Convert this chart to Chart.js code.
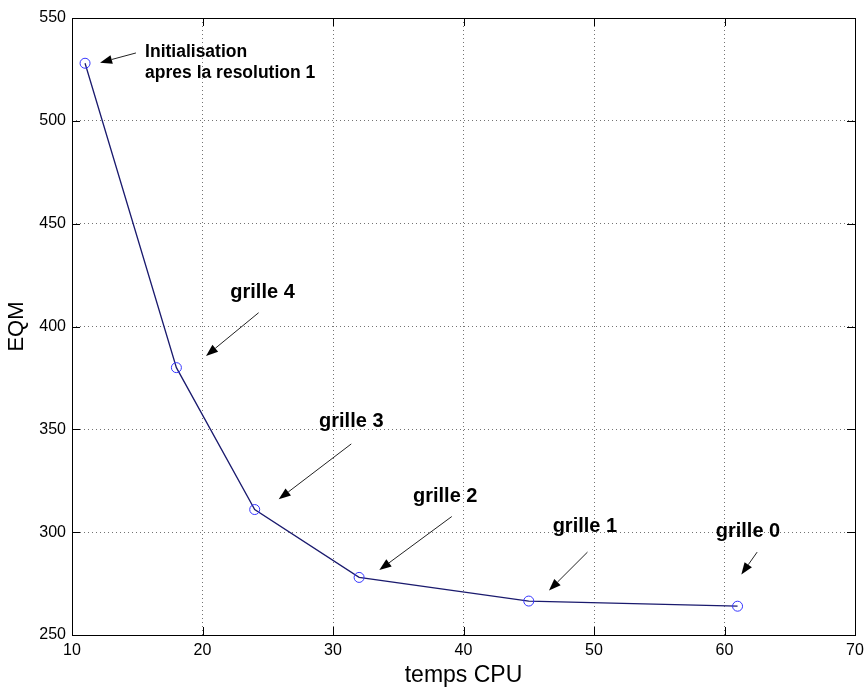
<!DOCTYPE html>
<html><head><meta charset="utf-8">
<script src="https://cdn.jsdelivr.net/npm/chart.js@4/dist/chart.umd.min.js"></script>
<style>html,body{margin:0;padding:0;background:#fff;overflow:hidden}#wrap{width:864px;height:687px}</style>
</head><body><div id="wrap"><canvas id="c" width="864" height="687"></canvas></div>
<script>
// ---- data ----
const cpuTime = [11, 18, 24, 32, 45, 61];
const eqm = [528, 380, 311, 278, 266.5, 264];
const xTickValues = [10, 20, 30, 40, 50, 60, 70];
const yTickValues = [250, 300, 350, 400, 450, 500, 550];
const xTitle = "temps CPU";
const yTitle = "EQM";

// ---- annotations (text + arrows, in data units) ----
const noteLines = [["Initialisation", "apres la resolution 1"], ["grille 4"], ["grille 3"], ["grille 2"], ["grille 1"], ["grille 0"]];
const noteTextX = [15.6, 24.6, 31.4, 38.6, 49.3, 61.8];
const noteTextY = [533.5, 416.3, 353.7, 317.3, 303.0, 300.3];
const arrowTailX = [14.9, 24.3, 31.4, 39.1, 49.5, 62.5];
const arrowTailY = [533.0, 406.7, 342.9, 307.6, 290.3, 290.3];
const arrowTipX = [12.15, 20.27, 25.84, 33.55, 46.55, 61.29];
const arrowTipY = [528.3, 385.7, 316.0, 281.6, 271.6, 279.4];

const FONT = "'Liberation Sans', Arial, Helvetica, sans-serif";

const framePlugin = {
  id: 'frame',
  afterDraw(chart) {
    const ctx = chart.ctx, a = chart.chartArea;
    const xs = chart.scales.x, ys = chart.scales.y;
    ctx.save();
    ctx.strokeStyle = '#000';
    ctx.lineWidth = 1;
    ctx.setLineDash([]);
    ctx.strokeRect(Math.round(a.left) + 0.5, Math.round(a.top) + 0.5, Math.round(a.right - a.left), Math.round(a.bottom - a.top));
    const tl = 8;
    ctx.beginPath();
    xTickValues.forEach(v => {
      const px = Math.round(xs.getPixelForValue(v)) + 0.5;
      ctx.moveTo(px, a.bottom); ctx.lineTo(px, a.bottom - tl);
      ctx.moveTo(px, a.top); ctx.lineTo(px, a.top + tl);
    });
    yTickValues.forEach(v => {
      const py = Math.round(ys.getPixelForValue(v)) + 0.5;
      ctx.moveTo(a.left, py); ctx.lineTo(a.left + tl, py);
      ctx.moveTo(a.right, py); ctx.lineTo(a.right - tl, py);
    });
    ctx.stroke();
    ctx.restore();
  }
};

const notePlugin = {
  id: 'notes',
  afterDatasetsDraw(chart) {
    const ctx = chart.ctx;
    const xs = chart.scales.x, ys = chart.scales.y;
    ctx.save();
    for (let i = 0; i < arrowTailX.length; i++) {
      const x0 = xs.getPixelForValue(arrowTailX[i]), y0 = ys.getPixelForValue(arrowTailY[i]);
      const x1 = xs.getPixelForValue(arrowTipX[i]), y1 = ys.getPixelForValue(arrowTipY[i]);
      const ang = Math.atan2(y1 - y0, x1 - x0);
      const hl = 12, hw = 4.5;
      const bx = x1 - hl * Math.cos(ang), by = y1 - hl * Math.sin(ang);
      ctx.strokeStyle = '#222';
      ctx.lineWidth = 1;
      ctx.beginPath(); ctx.moveTo(x0, y0); ctx.lineTo(bx, by); ctx.stroke();
      ctx.fillStyle = '#000';
      ctx.beginPath();
      ctx.moveTo(x1, y1);
      ctx.lineTo(bx + hw * Math.sin(ang), by - hw * Math.cos(ang));
      ctx.lineTo(bx - hw * Math.sin(ang), by + hw * Math.cos(ang));
      ctx.closePath(); ctx.fill();
    }
    ctx.fillStyle = '#000';
    ctx.textBaseline = 'middle';
    noteLines.forEach((lines, i) => {
      const px = xs.getPixelForValue(noteTextX[i]);
      const py = ys.getPixelForValue(noteTextY[i]);
      if (lines.length > 1) {
        ctx.font = 'bold 17.5px ' + FONT;
        ctx.textAlign = 'left';
        lines.forEach((t, j) => ctx.fillText(t, px, py + j * 21));
      } else {
        ctx.font = 'bold 20px ' + FONT;
        ctx.textAlign = 'center';
        ctx.fillText(lines[0], px, py);
      }
    });
    ctx.restore();
  }
};

new Chart(document.getElementById('c'), {
  type: 'scatter',
  data: {
    datasets: [{
      data: cpuTime.map((x, i) => ({x: x, y: eqm[i]})),
      showLine: true,
      borderColor: '#1a1a6e',
      borderWidth: 1.3,
      pointStyle: 'circle',
      pointRadius: 5,
      pointBorderColor: '#3535ff',
      pointBackgroundColor: 'rgba(0,0,0,0)',
      pointBorderWidth: 1,
      tension: 0
    }]
  },
  options: {
    responsive: false,
    animation: false,
    devicePixelRatio: 1,
    layout: {padding: {top: 18, right: 9, left: 0, bottom: 0}},
    plugins: {legend: {display: false}, tooltip: {enabled: false}},
    scales: {
      x: {
        type: 'linear', min: 10, max: 70,
        afterBuildTicks: s => { s.ticks = xTickValues.map(v => ({value: v})); },
        afterFit: s => { s.height = 52; s.paddingRight = 0; s.paddingLeft = 0; },
        grid: {color: 'rgba(0,0,0,0.55)', lineWidth: 1, drawTicks: false},
        border: {display: false, dash: [1, 3]},
        ticks: {color: '#000', font: {family: FONT, size: 16}, padding: 6, maxRotation: 0},
        title: {display: true, text: xTitle, color: '#000', font: {family: FONT, size: 23, lineHeight: 1}, padding: {top: 0, bottom: 0}}
      },
      y: {
        type: 'linear', min: 250, max: 550,
        afterBuildTicks: s => { s.ticks = yTickValues.map(v => ({value: v})); },
        afterFit: s => { s.width = 72; s.paddingTop = 0; s.paddingBottom = 0; },
        grid: {color: 'rgba(0,0,0,0.55)', lineWidth: 1, drawTicks: false},
        border: {display: false, dash: [1, 3]},
        ticks: {color: '#000', font: {family: FONT, size: 16}, padding: 6},
        title: {display: true, text: yTitle, color: '#000', font: {family: FONT, size: 22, lineHeight: 1}, padding: {top: 6, bottom: 0}}
      }
    }
  },
  plugins: [framePlugin, notePlugin]
});
</script></body></html>
